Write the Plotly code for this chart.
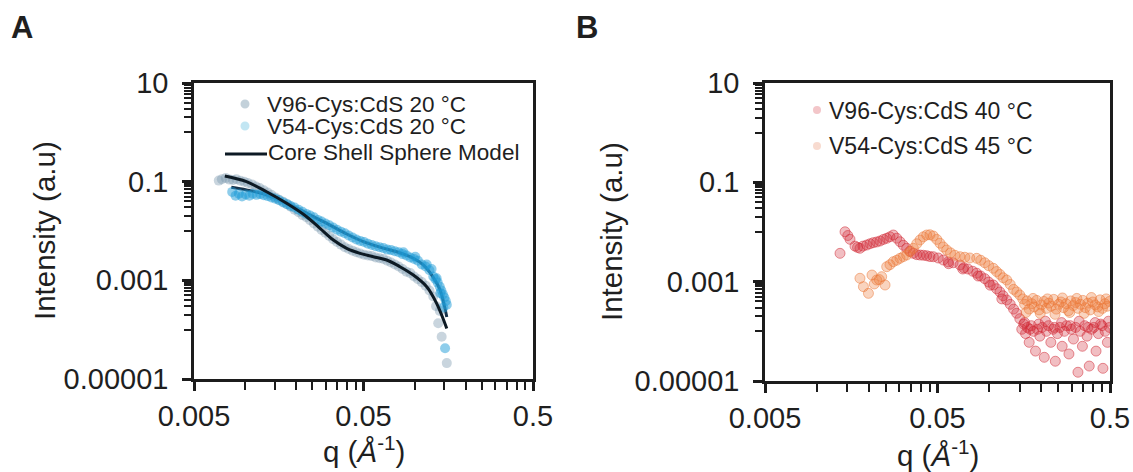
import plotly.graph_objects as go

W, H = 1133, 472

# ---------------- Panel A data (20 °C) ----------------
a_v96_q = [0.0070, 0.0073, 0.0077, 0.0081, 0.0085, 0.0089, 0.0094, 0.0099, 0.0104, 0.0110,
           0.0116, 0.0122, 0.0129, 0.0136, 0.0143, 0.0151, 0.0159, 0.0168, 0.0177, 0.0186,
           0.0196, 0.0207, 0.0218, 0.0230, 0.0242, 0.0255, 0.0269, 0.0283, 0.0298, 0.0314,
           0.0331, 0.0349, 0.0368, 0.0388, 0.0409, 0.0431, 0.0454, 0.0478, 0.0504, 0.0531,
           0.0560, 0.0590, 0.0622, 0.0655, 0.0690, 0.0727, 0.0766, 0.0807, 0.0850, 0.0896,
           0.0944, 0.0995, 0.1048, 0.1104, 0.1163, 0.1225, 0.1290, 0.1340, 0.1380, 0.1410,
           0.1446, 0.1550]
a_v96_i = [0.105, 0.112, 0.118, 0.110, 0.108, 0.112, 0.104, 0.100, 0.094, 0.088,
           0.080, 0.074, 0.067, 0.060, 0.054, 0.048, 0.043, 0.039, 0.035, 0.031,
           0.027, 0.024, 0.021, 0.019, 0.0165, 0.0142, 0.0122, 0.0105, 0.0092, 0.0079,
           0.0068, 0.0060, 0.0053, 0.0047, 0.0043, 0.0040, 0.0037, 0.0035, 0.0033, 0.0032,
           0.0031, 0.0029, 0.0028, 0.0027, 0.0025, 0.0023, 0.0021, 0.0019, 0.0017, 0.0015,
           0.0014, 0.0012, 0.00105, 0.00092, 0.00078, 0.00062, 0.00047, 0.00030, 0.000135, 0.00024,
           7.2e-5, 2.1e-5]

a_v54_q = [0.0084, 0.0088, 0.0092, 0.0096, 0.0101, 0.0106, 0.0111, 0.0117, 0.0123, 0.0129,
           0.0136, 0.0143, 0.0151, 0.0159, 0.0168, 0.0177, 0.0186, 0.0196, 0.0207, 0.0218,
           0.0230, 0.0242, 0.0255, 0.0269, 0.0283, 0.0298, 0.0314, 0.0331, 0.0349, 0.0368,
           0.0388, 0.0409, 0.0431, 0.0454, 0.0478, 0.0504, 0.0531, 0.0560, 0.0590, 0.0622,
           0.0655, 0.0690, 0.0727, 0.0766, 0.0807, 0.0850, 0.0896, 0.0944, 0.0995, 0.1048,
           0.1104, 0.1163, 0.1225, 0.1290, 0.1330, 0.1370, 0.1410, 0.1440, 0.1470, 0.1500,
           0.1530, 0.1550, 0.1514, 0.1480, 0.1420, 0.0860, 0.1010, 0.1180, 0.1260, 0.1350]
a_v54_i = [0.062, 0.052, 0.057, 0.050, 0.055, 0.052, 0.057, 0.054, 0.056, 0.053,
           0.051, 0.048, 0.045, 0.042, 0.038, 0.035, 0.032, 0.030, 0.027, 0.0245,
           0.0222, 0.0205, 0.0190, 0.0168, 0.0155, 0.0142, 0.0131, 0.0118, 0.0106, 0.0097,
           0.0090, 0.0081, 0.0074, 0.0067, 0.0063, 0.0060, 0.0055, 0.0052, 0.0049, 0.0047,
           0.0045, 0.0042, 0.0041, 0.0039, 0.0037, 0.0034, 0.0032, 0.0029, 0.0027, 0.0025,
           0.0021, 0.0019, 0.0016, 0.0012, 0.00105, 0.00090, 0.00074, 0.00062, 0.00052, 0.00045,
           0.00038, 0.00032, 4.2e-5, 0.00028, 0.00055, 0.0037, 0.0030, 0.0021, 0.0017, 0.0011]

# Core shell sphere model fits
fit96_q = [0.0076, 0.0102, 0.0134, 0.0176, 0.0231, 0.0277, 0.0332, 0.0398, 0.0477, 0.0571,
           0.0685, 0.0820, 0.0984, 0.1180, 0.1350, 0.1550]
fit96_i = [0.130, 0.0998, 0.0625, 0.0364, 0.0195, 0.0113, 0.00657, 0.00446, 0.00353, 0.00301,
           0.00258, 0.00189, 0.00128, 0.000743, 0.000342, 0.000106]
fit54_q = [0.0083, 0.0102, 0.0128, 0.0161, 0.0202, 0.0253, 0.0317, 0.0398, 0.0499, 0.0625,
           0.0785, 0.0984, 0.1127, 0.1290, 0.1413, 0.1550]
fit54_i = [0.077, 0.068, 0.057, 0.042, 0.029, 0.0195, 0.0132, 0.0087, 0.0061, 0.0047,
           0.0038, 0.0028, 0.00205, 0.00115, 0.00065, 0.00018]

# ---------------- Panel B data (40 / 45 °C) ----------------
b_v96_q = [0.01361, 0.01455, 0.01510, 0.01555, 0.01662, 0.01720, 0.01776, 0.01850, 0.01943, 0.02030,
           0.02122, 0.02220, 0.02321, 0.02430, 0.02538, 0.02650, 0.02772, 0.02900, 0.03031, 0.03170,
           0.03314, 0.03460, 0.03621, 0.03790, 0.03959, 0.04140, 0.04329, 0.04520, 0.04729, 0.05050,
           0.05402, 0.05770, 0.06160, 0.06751, 0.07100, 0.07500, 0.08000, 0.08438, 0.08900, 0.09400,
           0.09900, 0.1053, 0.1100, 0.1150, 0.1200, 0.1259, 0.1320, 0.1380, 0.1439, 0.150,
           0.154, 0.158, 0.162, 0.166, 0.170, 0.175, 0.180, 0.185, 0.190, 0.196,
           0.202, 0.208, 0.214, 0.220, 0.227, 0.234, 0.241, 0.248, 0.256, 0.264,
           0.272, 0.280, 0.289, 0.298, 0.307, 0.316, 0.326, 0.336, 0.346, 0.357,
           0.368, 0.379, 0.391, 0.403, 0.415, 0.428, 0.441, 0.455, 0.469, 0.483,
           0.497, 0.160, 0.172, 0.193, 0.211, 0.238, 0.262, 0.294, 0.331, 0.372,
           0.410, 0.450, 0.490, 0.0580, 0.0700, 0.0860, 0.1010, 0.1180]
b_v96_i = [0.00372, 0.0101, 0.0085, 0.00713, 0.0052, 0.0049, 0.0047, 0.0052, 0.00547, 0.0058,
           0.0061, 0.0063, 0.00659, 0.0071, 0.00746, 0.0080, 0.0087, 0.0075, 0.00638, 0.0054,
           0.0047, 0.0041, 0.00372, 0.0035, 0.00344, 0.0034, 0.00333, 0.0032, 0.00318, 0.0030,
           0.00273, 0.0025, 0.0024, 0.00217, 0.0019, 0.0018, 0.00162, 0.00148, 0.0013, 0.00115,
           0.00098, 0.000857, 0.00072, 0.00062, 0.00052, 0.000428, 0.00035, 0.00028, 0.000231, 0.00018,
           0.00011, 0.00014, 9e-5, 0.00012, 6e-5, 0.00013, 0.00010, 4e-5, 0.00011, 8e-5,
           0.00012, 3e-5, 0.00010, 0.00013, 6e-5, 0.00011, 2.5e-5, 9e-5, 0.00012, 5e-5,
           0.00010, 0.00013, 3.5e-5, 0.00011, 7e-5, 0.00012, 1.5e-5, 0.00010, 5e-5, 0.00013,
           8e-5, 2e-5, 0.00011, 0.00012, 4e-5, 9e-5, 0.00014, 1.8e-5, 0.00010, 6e-5,
           0.00012, 0.00015, 0.00011, 0.00014, 0.00016, 0.00012, 0.00015, 0.00013, 0.00016, 0.00012,
           0.00015, 0.00013, 0.00016, 0.0023, 0.0018, 0.0013, 0.00085, 0.00045]

b_v54_q = [0.01776, 0.0186, 0.01989, 0.02085, 0.02150, 0.02221, 0.02300, 0.02373, 0.02483, 0.02538,
           0.02650, 0.02772, 0.02900, 0.03031, 0.03170, 0.03314, 0.03460, 0.03621, 0.03790, 0.03959,
           0.04140, 0.04329, 0.04520, 0.04729, 0.04950, 0.05170, 0.05400, 0.05650, 0.05950, 0.06300,
           0.06751, 0.07200, 0.07700, 0.08438, 0.08900, 0.09400, 0.09900, 0.1053, 0.1100, 0.1150,
           0.1200, 0.1259, 0.1320, 0.1380, 0.1440, 0.1500, 0.156, 0.160, 0.165, 0.170,
           0.176, 0.182, 0.188, 0.194, 0.200, 0.207, 0.214, 0.221, 0.228, 0.236,
           0.244, 0.252, 0.260, 0.269, 0.278, 0.287, 0.296, 0.306, 0.316, 0.326,
           0.337, 0.348, 0.360, 0.372, 0.384, 0.397, 0.410, 0.424, 0.438, 0.452,
           0.467, 0.482, 0.497, 0.163, 0.179, 0.197, 0.217, 0.240, 0.265, 0.292,
           0.321, 0.354, 0.390, 0.430, 0.475]
b_v54_i = [0.00117, 0.000793, 0.000582, 0.00136, 0.0009, 0.00108, 0.0011, 0.00126, 0.000857, 0.0020,
           0.0022, 0.00253, 0.0027, 0.00295, 0.0032, 0.00344, 0.0040, 0.0047, 0.0058, 0.0069,
           0.0080, 0.0087, 0.0088, 0.0083, 0.0071, 0.00593, 0.0050, 0.00434, 0.0038, 0.0034,
           0.00318, 0.0031, 0.0030, 0.00295, 0.0027, 0.0024, 0.0021, 0.00186, 0.0016, 0.0014,
           0.0012, 0.00108, 0.00088, 0.0007, 0.00062, 0.00054, 0.00045, 0.00035, 0.00041, 0.00028,
           0.00036, 0.00031, 0.00042, 0.00027, 0.00034, 0.00040, 0.00029, 0.00037, 0.00032, 0.00044,
           0.00028, 0.00035, 0.00039, 0.00030, 0.00036, 0.00026, 0.00041, 0.00033, 0.00038, 0.00029,
           0.00035, 0.00042, 0.00030, 0.00037, 0.00027, 0.00039, 0.00034, 0.00031, 0.00043, 0.00029,
           0.00036, 0.00032, 0.00040, 0.00024, 0.00046, 0.00023, 0.00045, 0.00022, 0.00047, 0.00024,
           0.00046, 0.00023, 0.00048, 0.00025, 0.00045]

# ---------------- Axis ticks ----------------
x_ticks = [0.005, 0.05, 0.5]
x_ticktext = ["0.005", "0.05", "0.5"]
x_minor = [0.005 * k for k in range(2, 10)] + [0.05 * k for k in range(2, 10)]
y_ticks = [1e-5, 1e-3, 1e-1, 10]
y_ticktext = ["0.00001", "0.001", "0.1", "10"]
y_minor = [1e-4 * k for k in range(1, 10)] + [1e-2 * k for k in range(1, 10)] + [1.0 * k for k in range(1, 10)]

FONT = "Liberation Sans, Arial, sans-serif"
AX = "#1c1c1c"
TXT = "#1f1f1f"

fig = go.Figure()

# Panel A traces
fig.add_trace(go.Scatter(x=fit54_q, y=fit54_i, mode="lines", line=dict(color="#17324a", width=3, shape="spline"),
                         xaxis="x", yaxis="y", showlegend=False))
fig.add_trace(go.Scatter(x=a_v96_q, y=a_v96_i, mode="markers", name="V96-Cys:CdS 20 °C",
                         marker=dict(size=10, color="rgba(120,150,172,0.40)", line=dict(width=0)),
                         xaxis="x", yaxis="y", showlegend=False))
fig.add_trace(go.Scatter(x=a_v54_q, y=a_v54_i, mode="markers", name="V54-Cys:CdS 20 °C",
                         marker=dict(size=10, color="rgba(30,155,215,0.50)", line=dict(width=0)),
                         xaxis="x", yaxis="y", showlegend=False))
fig.add_trace(go.Scatter(x=fit96_q, y=fit96_i, mode="lines", name="Core Shell Sphere Model",
                         line=dict(color="#0d1a24", width=3, shape="spline"),
                         xaxis="x", yaxis="y", showlegend=False))

# Panel B traces
fig.add_trace(go.Scatter(x=b_v96_q, y=b_v96_i, mode="markers", name="V96-Cys:CdS 40 °C",
                         marker=dict(size=10, color="rgba(210,40,52,0.30)",
                                     line=dict(width=1, color="rgba(210,40,52,0.50)")),
                         xaxis="x2", yaxis="y2", showlegend=False))
fig.add_trace(go.Scatter(x=b_v54_q, y=b_v54_i, mode="markers", name="V54-Cys:CdS 45 °C",
                         marker=dict(size=10, color="rgba(236,120,55,0.32)",
                                     line=dict(width=1, color="rgba(236,120,55,0.50)")),
                         xaxis="x2", yaxis="y2", showlegend=False))


def xaxis_style(domain, anchor):
    return dict(domain=domain, anchor=anchor, type="log",
                range=[-2.30103, -0.30103],
                tickmode="array", tickvals=x_ticks, ticktext=x_ticktext,
                ticks="outside", ticklen=9, tickwidth=2.5, tickcolor=AX,
                minor=dict(tickmode="array", tickvals=x_minor, ticks="outside",
                           ticklen=8, tickwidth=2, tickcolor=AX, showgrid=False),
                showline=True, linecolor=AX, linewidth=2.5, mirror=True,
                showgrid=False, zeroline=False, automargin=False,
                ticklabelstandoff=0,
                tickfont=dict(family=FONT, size=29, color=TXT))


def yaxis_style(domain, anchor):
    return dict(domain=domain, anchor=anchor, type="log",
                range=[-5, 1],
                tickmode="array", tickvals=y_ticks, ticktext=y_ticktext,
                ticks="outside", ticklen=9, tickwidth=2.5, tickcolor=AX,
                minor=dict(tickmode="array", tickvals=y_minor, ticks="outside",
                           ticklen=7, tickwidth=2, tickcolor=AX, showgrid=False),
                showline=True, linecolor=AX, linewidth=2.5, mirror=True,
                showgrid=False, zeroline=False, automargin=False,
                ticklabelstandoff=8,
                tickfont=dict(family=FONT, size=29, color=TXT))


fig.update_layout(
    width=W, height=H,
    margin=dict(l=0, r=0, t=0, b=0, autoexpand=False),
    paper_bgcolor="white", plot_bgcolor="white",
    showlegend=False,
    xaxis=xaxis_style([194 / W, 533 / W], "y"),
    yaxis=yaxis_style([1 - 379 / H, 1 - 83 / H], "x"),
    xaxis2=xaxis_style([765 / W, 1110 / W], "y2"),
    yaxis2=yaxis_style([1 - 381 / H, 1 - 83 / H], "x2"),
)


def px(xp):
    return xp / W


def py(yp):
    return 1 - yp / H


ann = []


def text(x, y, s, size, xanchor="center", yanchor="middle", angle=0):
    ann.append(dict(x=px(x), y=py(y), xref="paper", yref="paper", text=s, showarrow=False,
                    xanchor=xanchor, yanchor=yanchor, textangle=angle,
                    font=dict(family=FONT, size=size, color=TXT)))


# panel letters
text(22, 28, "<b>A</b>", 31)
text(587, 28, "<b>B</b>", 31)
# axis titles
text(45, 231, "Intensity (a.u)", 29.5, angle=-90)
text(611, 232, "Intensity (a.u)", 29.5, angle=-90)
text(363.5, 449, "q (<i>Å</i><sup>-1</sup>)", 29.5)
text(937.5, 453, "q (<i>Å</i><sup>-1</sup>)", 29.5)
# legend texts
text(265, 104.5, "V96-Cys:CdS 20 °C", 22.5, xanchor="left")
text(265, 126.5, "V54-Cys:CdS 20 °C", 22.5, xanchor="left")
text(266, 152.5, "Core Shell Sphere Model", 22.5, xanchor="left")
text(827, 110.5, "V96-Cys:CdS 40 °C", 23, xanchor="left")
text(827, 146, "V54-Cys:CdS 45 °C", 23, xanchor="left")
fig.update_layout(annotations=ann)

shapes = []


def dot(cx, cy, r, color):
    shapes.append(dict(type="circle", xref="paper", yref="paper",
                       x0=px(cx - r), x1=px(cx + r), y0=py(cy + r), y1=py(cy - r),
                       fillcolor=color, line=dict(width=0)))


dot(245, 104, 4.5, "#c3d1da")
dot(245, 126, 4.5, "#c2e6f3")
shapes.append(dict(type="line", xref="paper", yref="paper", x0=px(225), x1=px(267),
                   y0=py(154), y1=py(154), line=dict(color="#0d1a24", width=3)))
dot(817, 110, 4, "#f3c6c9")
dot(817, 146, 4, "#f8dbd0")
fig.update_layout(shapes=shapes)

fig.write_html("out.html")
